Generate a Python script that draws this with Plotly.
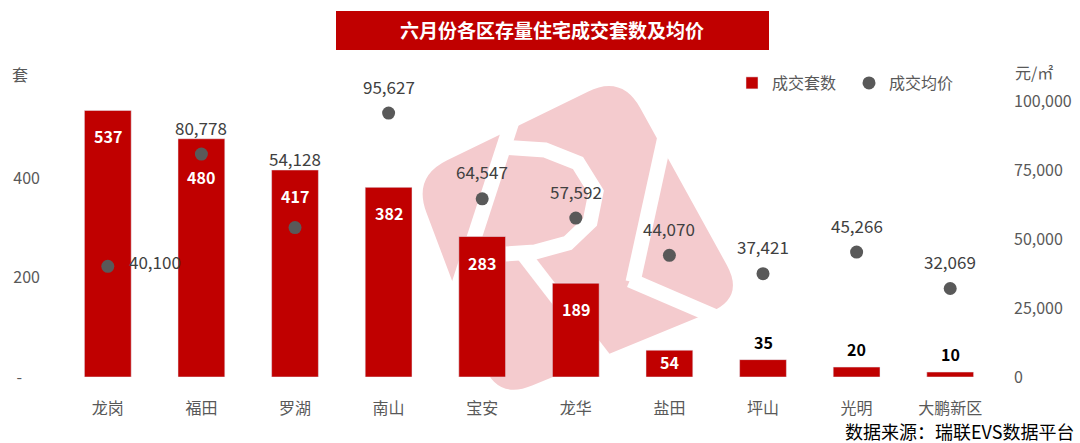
import plotly.graph_objects as go

# ---------------- data ----------------
districts = ["龙岗", "福田", "罗湖", "南山", "宝安", "龙华", "盐田", "坪山", "光明", "大鹏新区"]
units_sold = [537, 480, 417, 382, 283, 189, 54, 35, 20, 10]
avg_price = [40100, 80778, 54128, 95627, 64547, 57592, 44070, 37421, 45266, 32069]
left_ticks = [0, 200, 400]
left_tick_text = ["-\u00a0\u00a0\u00a0\u00a0\u00a0", "200", "400"]
right_ticks = [0, 25000, 50000, 75000, 100000]
title_text = "六月份各区存量住宅成交套数及均价"
source_text = "数据来源：瑞联EVS数据平台"

# ---------------- layout constants ----------------
W, H = 1080, 443
L, R, T, B = 61, 997, 101, 377
Y1_MAX = 556
Y2_MAX = 100000
FONT = "Noto Sans CJK SC, Noto Sans, sans-serif"
RED = "#C00000"
GRAY = "#595959"
TXT = "#404040"


def px(x):
    return (x - L) / (R - L)


def py(y):
    return (B - y) / (B - T)


fig = go.Figure()
fig.add_trace(go.Bar(
    x=districts, y=units_sold, name="成交套数", marker_color=RED,
    width=0.5, yaxis="y", hoverinfo="x+y",
))
fig.add_trace(go.Scatter(
    x=districts, y=avg_price, name="成交均价", mode="markers",
    marker=dict(color=GRAY, size=13), yaxis="y2", hoverinfo="x+y",
))

annotations = []
k1 = (B - T) / Y1_MAX
k2 = (B - T) / Y2_MAX
# bar value labels
for d, v, p in zip(districts, units_sold, avg_price):
    top = v * k1
    if v >= 100:
        lab = top - 26
        dot = p * k2
        if abs(dot - lab) < 16:
            lab = dot - 23
        annotations.append(dict(x=d, y=v, yref="y", text=f"<b>{v}</b>", showarrow=False,
                                yanchor="middle", yshift=lab - top,
                                font=dict(family=FONT, size=16, color="white")))
    elif v >= 50:
        annotations.append(dict(x=d, y=v / 2, yref="y", text=f"<b>{v}</b>", showarrow=False,
                                yanchor="middle", yshift=2,
                                font=dict(family=FONT, size=16, color="white")))
    else:
        annotations.append(dict(x=d, y=v, yref="y", text=f"<b>{v}</b>", showarrow=False,
                                yanchor="middle", yshift=18,
                                font=dict(family=FONT, size=16, color="black")))

# price labels
for d, v, p in zip(districts, units_sold, avg_price):
    base = dict(text=f"{p:,}", showarrow=False, font=dict(family=FONT, size=17, color=TXT))
    if d == "龙岗":
        annotations.append(dict(base, x=d, y=p, yref="y2", xanchor="left", yanchor="middle",
                                xshift=19, yshift=5))
    elif d == "罗湖":
        annotations.append(dict(base, x=d, y=v, yref="y", yanchor="middle", yshift=12))
    else:
        annotations.append(dict(base, x=d, y=p, yref="y2", yanchor="middle", yshift=27))

# title, axis unit labels, source
annotations += [
    dict(x=px(552), y=py(30), xref="paper", yref="paper", text=f"<b>{title_text}</b>",
         showarrow=False, xanchor="center", yanchor="middle",
         font=dict(family=FONT, size=19, color="white")),
    dict(x=px(20), y=py(74), xref="paper", yref="paper", text="套", showarrow=False,
         xanchor="center", yanchor="middle", font=dict(family=FONT, size=16, color=GRAY)),
    dict(x=px(1013), y=py(72), xref="paper", yref="paper", text="元/㎡", showarrow=False,
         xanchor="left", yanchor="middle", font=dict(family=FONT, size=16, color=GRAY)),
    dict(x=px(1076), y=py(431), xref="paper", yref="paper", text=source_text, showarrow=False,
         xanchor="right", yanchor="middle", font=dict(family=FONT, size=18, color="black")),
]

# ---------------- watermark (decorative) ----------------
def rounded_poly(pts, r):
    import math
    n = len(pts)
    segs = []
    for i in range(n):
        p0, p1, p2 = pts[i - 1], pts[i], pts[(i + 1) % n]
        def toward(a, b, d):
            dx, dy = b[0] - a[0], b[1] - a[1]
            ln = math.hypot(dx, dy)
            return (a[0] + dx / ln * d, a[1] + dy / ln * d)
        a = toward(p1, p0, r)
        b = toward(p1, p2, r)
        segs.append((a, p1, b))
    path = f"M {px(segs[0][0][0])},{py(segs[0][0][1])} "
    for i, (a, c, b) in enumerate(segs):
        if i > 0:
            path += f"L {px(a[0])},{py(a[1])} "
        path += f"Q {px(c[0])},{py(c[1])} {px(b[0])},{py(b[1])} "
    return path + "Z"


def polyline(pts):
    s = f"M {px(pts[0][0])},{py(pts[0][1])}"
    for x, y in pts[1:]:
        s += f" L {px(x)},{py(y)}"
    return s


shapes = [
    dict(type="path", xref="paper", yref="paper", layer="below",
         path=rounded_poly([(413, 177), (622, 75), (745, 298), (497, 400)], 38),
         fillcolor="#F4CBCE", line=dict(width=0)),
]
bands = [
    [(517, 106), (448, 318)],
    [(500, 147), (545, 150), (578, 163), (596, 192), (590, 222), (568, 243), (535, 252), (505, 254)],
    [(520, 250), (628, 390)],
    [(673, 100), (633, 282)],
    [(630, 280), (765, 338)],
]
for b in bands:
    shapes.append(dict(type="path", xref="paper", yref="paper", layer="below",
                       path=polyline(b), line=dict(color="white", width=15)))

shapes.append(dict(type="rect", xref="paper", yref="paper",
                   x0=px(336), x1=px(769), y0=py(50), y1=py(11),
                   fillcolor=RED, line=dict(width=0), layer="below"))

fig.update_layout(
    width=W, height=H,
    margin=dict(l=L, r=W - R, t=T, b=H - B, pad=0, autoexpand=False),
    paper_bgcolor="white", plot_bgcolor="rgba(0,0,0,0)",
    font=dict(family=FONT, size=16, color=GRAY),
    bargap=0.5,
    showlegend=True,
    legend=dict(orientation="h", x=px(732), y=py(83), xanchor="left", yanchor="middle",
                font=dict(family=FONT, size=16, color=GRAY), bgcolor="rgba(0,0,0,0)",
                entrywidth=72, entrywidthmode="pixels", traceorder="normal"),
    xaxis=dict(range=[-0.5, len(districts) - 0.5], showgrid=False, zeroline=False,
               showline=False, ticks="", automargin=False,
               tickfont=dict(family=FONT, size=16, color=GRAY), ticklabelstandoff=20),
    yaxis=dict(range=[0, Y1_MAX], tickvals=left_ticks, ticktext=left_tick_text,
               showgrid=False, zeroline=False, showline=False, ticks="", automargin=False,
               tickfont=dict(family=FONT, size=16, color=GRAY), ticklabelstandoff=20),
    yaxis2=dict(range=[0, Y2_MAX], tickvals=right_ticks, tickformat=",", overlaying="y",
                side="right", showgrid=False, zeroline=False, showline=False, ticks="",
                automargin=False,
                tickfont=dict(family=FONT, size=16, color=GRAY), ticklabelstandoff=16),
    annotations=annotations,
    shapes=shapes,
)

fig.write_html("out.html", config={"displayModeBar": False},
               post_script="document.body.style.margin='0';")
